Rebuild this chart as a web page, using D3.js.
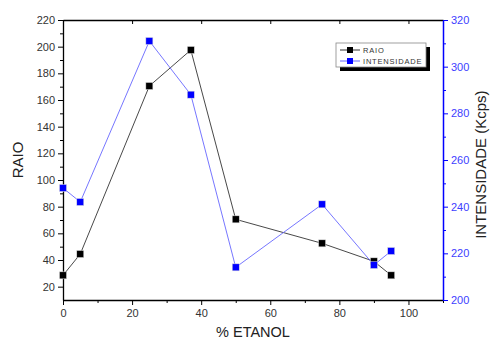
<!DOCTYPE html>
<html>
<head>
<meta charset="utf-8">
<script src="https://cdn.jsdelivr.net/npm/d3@7"></script>
<style>
  body { margin: 0; background: #fff; }
  text { font-family: "Liberation Sans", Arial, sans-serif; }
</style>
</head>
<body>
<div id="chart"></div>
<script>
// % etanol on the x axis
const etanol = [0, 5, 25, 37, 50, 75, 90, 95];
// left axis series
const raio = [28.5, 44.5, 170.5, 197.5, 70.5, 52.5, 39, 28.5];
// right axis series (Kcps)
const intensidade = [248, 242, 311, 288, 214, 241, 215, 221];
const xTicks = [0, 20, 40, 60, 80, 100];
const leftTicks = [20, 40, 60, 80, 100, 120, 140, 160, 180, 200, 220];
const rightTicks = [200, 220, 240, 260, 280, 300, 320];

const width = 490, height = 340;
const margin = {top: 20, right: 47, bottom: 40, left: 63};
const w = width - margin.left - margin.right;
const h = height - margin.top - margin.bottom;

const svg = d3.select('#chart').append('svg')
    .attr('width', width)
    .attr('height', height);

const g = svg.append('g')
    .attr('transform', `translate(${margin.left},${margin.top})`);

const x = d3.scaleLinear().domain([0, 110]).range([0, w]);
const yL = d3.scaleLinear().domain([10, 220]).range([h, 0]);
const yR = d3.scaleLinear().domain([200, 320]).range([h, 0]);

const labelColor = '#333';
const blue = '#0000ff';

// minor ticks first, then major axes on top
g.append('g')
    .attr('transform', `translate(0,${h})`)
    .call(d3.axisBottom(x).tickValues(d3.range(10, 111, 20)).tickSize(3).tickFormat(''))
    .call(a => a.select('.domain').remove());
g.append('g')
    .call(d3.axisLeft(yL).tickValues(d3.range(30, 221, 20)).tickSize(3).tickFormat(''))
    .call(a => a.select('.domain').remove());
g.append('g')
    .attr('transform', `translate(${w},0)`)
    .call(d3.axisRight(yR).tickValues(d3.range(210, 320, 20)).tickSize(3).tickFormat(''))
    .call(a => a.select('.domain').remove())
    .call(a => a.selectAll('line').attr('stroke', blue));

// top axis, inward ticks
g.append('g')
    .call(d3.axisBottom(x).tickValues(xTicks).tickSize(4).tickSizeOuter(0).tickFormat(''))
    .call(a => a.select('.domain').attr('stroke', '#000').attr('stroke-width', 1.3));

const xAxis = g.append('g')
    .attr('transform', `translate(0,${h})`)
    .call(d3.axisBottom(x).tickValues(xTicks).tickSize(5).tickSizeOuter(0).tickPadding(4));
xAxis.select('.domain').attr('stroke-width', 1.3);

const lAxis = g.append('g')
    .call(d3.axisLeft(yL).tickValues(leftTicks).tickSize(5).tickSizeOuter(0).tickPadding(3));
lAxis.select('.domain').attr('stroke-width', 1.3);

const rAxis = g.append('g')
    .attr('transform', `translate(${w},0)`)
    .call(d3.axisRight(yR).tickValues(rightTicks).tickSize(5).tickSizeOuter(0).tickPadding(3));
rAxis.select('.domain').attr('stroke', blue).attr('stroke-width', 1.5);
rAxis.selectAll('line').attr('stroke', blue);

[xAxis, lAxis].forEach(a => a.selectAll('text')
    .attr('fill', labelColor).style('font-size', '11px'));
rAxis.selectAll('text').attr('fill', '#4040ff').style('font-size', '11px');

// series
const lineL = d3.line().x((d, i) => x(etanol[i])).y(d => yL(d));
const lineR = d3.line().x((d, i) => x(etanol[i])).y(d => yR(d));

g.append('path').datum(raio)
    .attr('d', lineL).attr('fill', 'none')
    .attr('stroke', '#333').attr('stroke-width', 0.9);
g.append('path').datum(intensidade)
    .attr('d', lineR).attr('fill', 'none')
    .attr('stroke', '#6666ff').attr('stroke-width', 0.9);

const ms = 7;
g.selectAll('.pt-raio').data(raio).enter().append('rect')
    .attr('class', 'pt-raio')
    .attr('x', (d, i) => x(etanol[i]) - ms / 2)
    .attr('y', d => yL(d) - ms / 2)
    .attr('width', ms).attr('height', ms)
    .attr('fill', '#000').attr('stroke', '#ddd').attr('stroke-width', 0.5);
g.selectAll('.pt-int').data(intensidade).enter().append('rect')
    .attr('class', 'pt-int')
    .attr('x', (d, i) => x(etanol[i]) - ms / 2)
    .attr('y', d => yR(d) - ms / 2)
    .attr('width', ms).attr('height', ms)
    .attr('fill', blue).attr('stroke', '#ddd').attr('stroke-width', 0.5);

// axis titles
svg.append('text')
    .attr('transform', `translate(23,${margin.top + yL(115)}) rotate(-90)`)
    .attr('text-anchor', 'middle')
    .attr('fill', '#222')
    .style('font-size', '15px')
    .text('RAIO');
svg.append('text')
    .attr('transform', `translate(486,${margin.top + yR(258)}) rotate(-90)`)
    .attr('text-anchor', 'middle')
    .attr('fill', '#222')
    .style('font-size', '15px')
    .text('INTENSIDADE (Kcps)');
svg.append('text')
    .attr('x', margin.left + x(55))
    .attr('y', 337)
    .attr('text-anchor', 'middle')
    .attr('fill', '#222')
    .style('font-size', '14.5px')
    .text('% ETANOL');

// legend
const lg = svg.append('g').attr('transform', 'translate(336,43)');
lg.append('rect').attr('x', 4).attr('y', 4).attr('width', 90).attr('height', 24).attr('fill', '#000');
lg.append('rect').attr('width', 90).attr('height', 24)
    .attr('fill', '#fff').attr('stroke', '#888').attr('stroke-width', 0.8);
const legendItems = [
  {name: 'RAIO', stroke: '#333', fill: '#000'},
  {name: 'INTENSIDADE', stroke: '#6666ff', fill: blue}
];
legendItems.forEach((d, i) => {
  const yy = 7 + i * 11;
  lg.append('line').attr('x1', 4).attr('x2', 24).attr('y1', yy).attr('y2', yy)
      .attr('stroke', d.stroke).attr('stroke-width', 1);
  lg.append('rect').attr('x', 11).attr('y', yy - 3).attr('width', 6).attr('height', 6)
      .attr('fill', d.fill);
  lg.append('text').attr('x', 27).attr('y', yy + 3)
      .attr('fill', '#333')
      .style('font-size', '7.5px')
      .style('letter-spacing', '0.8px')
      .text(d.name);
});
</script>
</body>
</html>
